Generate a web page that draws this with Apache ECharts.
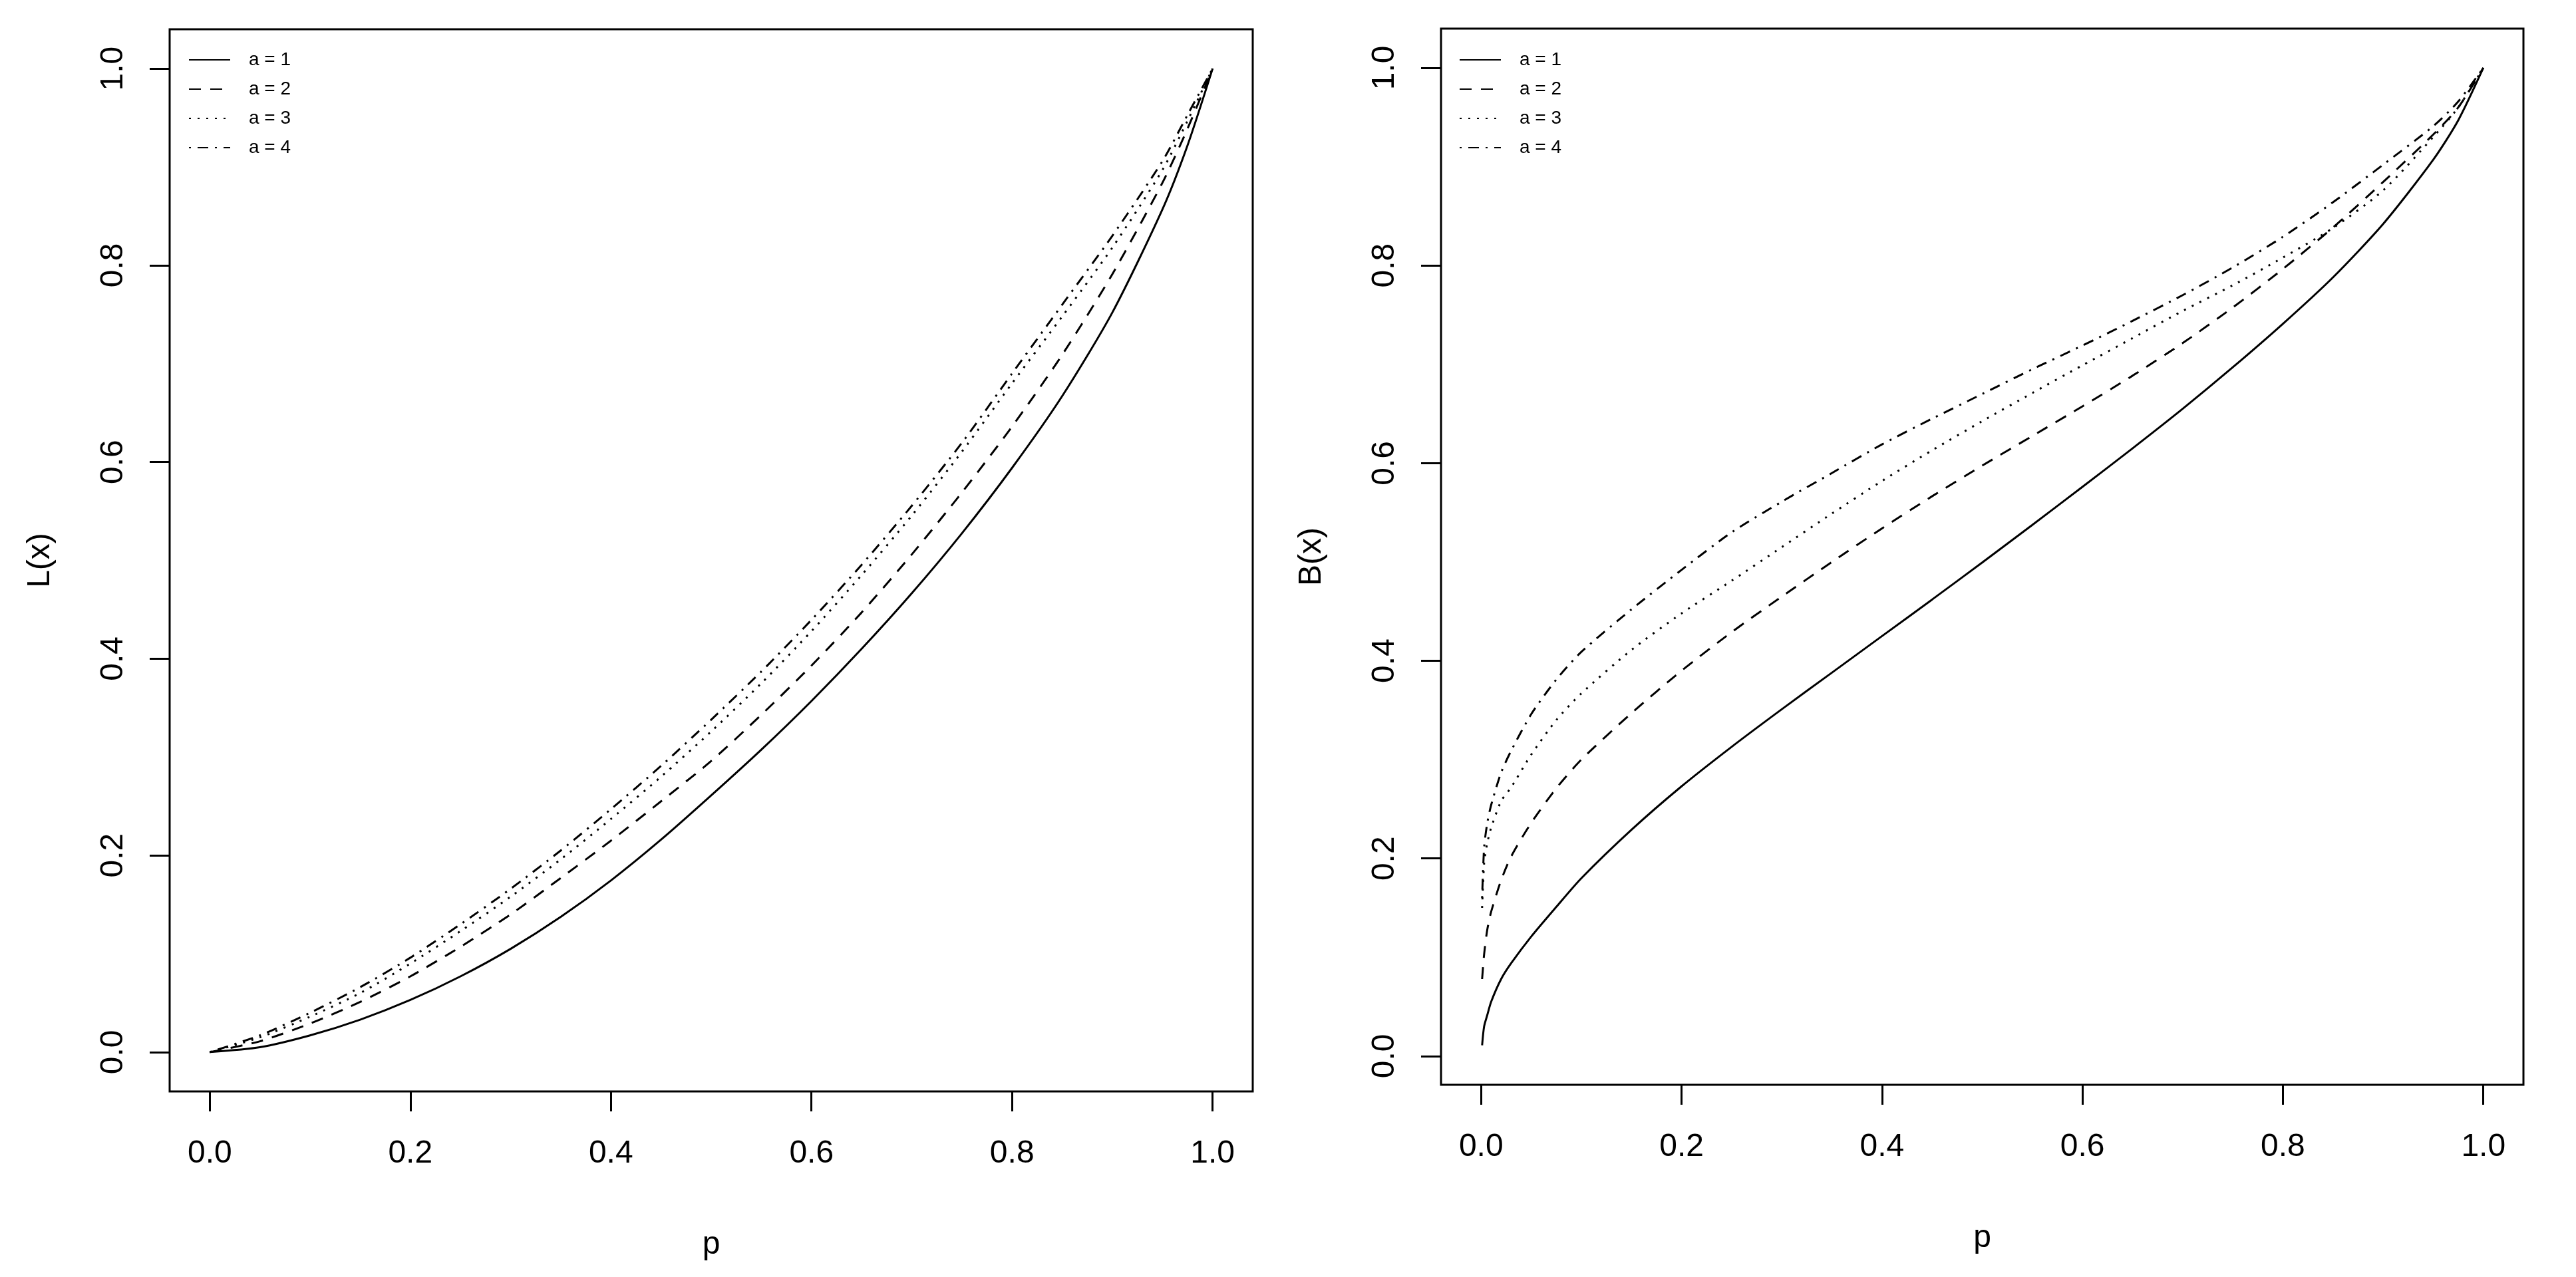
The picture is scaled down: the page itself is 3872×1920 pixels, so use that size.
<!DOCTYPE html>
<html>
<head>
<meta charset="utf-8">
<script src="https://cdn.jsdelivr.net/npm/echarts@6/dist/echarts.min.js"></script>
<style>
  html, body { margin: 0; padding: 0; background: #fff; }
  #chart { width: 3872px; height: 1920px; }
</style>
</head>
<body>
<div id="chart"></div>
<script>
// p values
const pL = [0, 0.05, 0.1, 0.15, 0.2, 0.25, 0.3, 0.35, 0.4, 0.45, 0.5, 0.55, 0.6, 0.65, 0.7, 0.75, 0.8, 0.85, 0.9, 0.95, 0.975, 1];
const pB = [0.001, 0.003, 0.006, 0.01, 0.02, 0.03, 0.05, 0.075, 0.1, 0.15, 0.2, 0.25, 0.3, 0.35, 0.4, 0.45, 0.5, 0.55, 0.6, 0.65, 0.7, 0.75, 0.8, 0.85, 0.9, 0.95, 0.975, 1];

// L(x) curves (left panel)
const L1 = [0, 0.005, 0.017, 0.033, 0.053, 0.077, 0.105, 0.1375, 0.1745, 0.216, 0.261, 0.3075, 0.357, 0.410, 0.4665, 0.5275, 0.594, 0.667, 0.752, 0.857, 0.922, 1];
const L2 = [0, 0.011, 0.029, 0.051, 0.077, 0.107, 0.140, 0.177, 0.215, 0.255, 0.296, 0.343, 0.393, 0.447, 0.506, 0.569, 0.636, 0.709, 0.791, 0.884, 0.939, 1];
const L3 = [0, 0.015, 0.036, 0.060, 0.090, 0.123, 0.158, 0.196, 0.237, 0.280, 0.326, 0.375, 0.428, 0.485, 0.5455, 0.6105, 0.680, 0.748, 0.818, 0.897, 0.947, 1];
const L4 = [0, 0.017, 0.040, 0.066, 0.096, 0.130, 0.166, 0.205, 0.247, 0.291, 0.338, 0.387, 0.4395, 0.4955, 0.5555, 0.6195, 0.690, 0.760, 0.830, 0.906, 0.953, 1];

// B(x) curves (right panel)
const B1 = [0.011, 0.030, 0.041, 0.055, 0.078, 0.094, 0.121, 0.151, 0.180, 0.229, 0.273, 0.313, 0.351, 0.388, 0.425, 0.462, 0.4995, 0.5375, 0.576, 0.615, 0.655, 0.697, 0.741, 0.788, 0.842, 0.907, 0.947, 1];
const B2 = [0.078, 0.103, 0.127, 0.146, 0.178, 0.202, 0.236, 0.271, 0.300, 0.347, 0.390, 0.429, 0.465, 0.500, 0.534, 0.5665, 0.5975, 0.6275, 0.6575, 0.6885, 0.7215, 0.7575, 0.7965, 0.8385, 0.8845, 0.9325, 0.960, 1];
const B3 = [0.150, 0.195, 0.215, 0.231, 0.258, 0.272, 0.305, 0.340, 0.367, 0.411, 0.448, 0.481, 0.515, 0.549, 0.582, 0.613, 0.6425, 0.671, 0.699, 0.7265, 0.754, 0.780, 0.808, 0.838, 0.876, 0.930, 0.960, 1];
const B4 = [0.160, 0.211, 0.235, 0.254, 0.287, 0.309, 0.346, 0.381, 0.409, 0.452, 0.492, 0.530, 0.561, 0.590, 0.619, 0.645, 0.670, 0.695, 0.719, 0.744, 0.770, 0.798, 0.829, 0.864, 0.902, 0.941, 0.966, 1];

const tickValues = [0, 0.2, 0.4, 0.6, 0.8, 1];
const seriesNames = ['a = 1', 'a = 2', 'a = 3', 'a = 4'];

let chartDom = document.getElementById('chart');
let myChart = echarts.init(chartDom);

const font = 'Liberation Sans, Arial, sans-serif';
const dashTypes = ['solid', [18, 14], [3, 10], [3, 10, 16, 10]];

function xAxisFor(gridIndex) {
  return {
    type: 'value',
    gridIndex: gridIndex,
    min: -0.04,
    max: 1.04,
    name: 'p',
    nameLocation: 'middle',
    nameGap: 207,
    nameTextStyle: { fontSize: 48, color: '#000', fontFamily: font },
    axisLine: { show: false, onZero: false },
    splitLine: { show: false },
    axisTick: {
      show: true,
      customValues: tickValues,
      length: 30,
      lineStyle: { color: '#000', width: 3 },
    },
    axisLabel: {
      customValues: tickValues,
      formatter: (v) => v.toFixed(1),
      margin: 70,
      fontSize: 48,
      color: '#000',
      fontFamily: font,
    },
  };
}

function yAxisFor(gridIndex, name, min, max) {
  return {
    type: 'value',
    gridIndex: gridIndex,
    min: min,
    max: max,
    name: name,
    nameLocation: 'middle',
    nameGap: 170,
    nameTextStyle: { fontSize: 48, color: '#000', fontFamily: font },
    axisLine: { show: false, onZero: false },
    splitLine: { show: false },
    axisTick: {
      show: true,
      customValues: tickValues,
      length: 30,
      lineStyle: { color: '#000', width: 3 },
    },
    axisLabel: {
      customValues: tickValues,
      formatter: (v) => v.toFixed(1),
      rotate: 90,
      margin: 60,
      fontSize: 48,
      color: '#000',
      fontFamily: font,
    },
  };
}

function legendFor(left) {
  return {
    data: seriesNames,
    orient: 'vertical',
    left: left,
    top: 76,
    padding: 0,
    itemWidth: 62,
    itemHeight: 14,
    itemGap: 16,
    selectedMode: false,
    itemStyle: { opacity: 0 },
    textStyle: { fontSize: 28, color: '#000', fontFamily: font, padding: [0, 0, 0, 23] },
  };
}

function makeSeries(xs, ys, idx, panel) {
  return {
    type: 'line',
    name: seriesNames[idx],
    xAxisIndex: panel,
    yAxisIndex: panel,
    data: xs.map((p, i) => [p, ys[i]]),
    symbol: 'none',
    showSymbol: false,
    smooth: 0.25,
    silent: true,
    itemStyle: { color: '#000' },
    lineStyle: { color: '#000', width: 3, type: dashTypes[idx], cap: 'butt' },
  };
}

var option = {
  animation: false,
  backgroundColor: '#fff',
  grid: [
    { left: 255, right: 1989, top: 44, bottom: 279, show: true, borderColor: '#000', borderWidth: 3, outerBoundsMode: 'none', containLabel: false },
    { left: 2166, right: 79, top: 43, bottom: 289, show: true, borderColor: '#000', borderWidth: 3, outerBoundsMode: 'none', containLabel: false },
  ],
  xAxis: [xAxisFor(0), xAxisFor(1)],
  yAxis: [yAxisFor(0, 'L(x)', -0.04, 1.04), yAxisFor(1, 'B(x)', -0.029, 1.0397)],
  legend: [legendFor(283), legendFor(2193)],
  series: [
    makeSeries(pL, L1, 0, 0),
    makeSeries(pL, L2, 1, 0),
    makeSeries(pL, L3, 2, 0),
    makeSeries(pL, L4, 3, 0),
    makeSeries(pB, B1, 0, 1),
    makeSeries(pB, B2, 1, 1),
    makeSeries(pB, B3, 2, 1),
    makeSeries(pB, B4, 3, 1),
  ],
};

myChart.setOption(option);
</script>
</body>
</html>
